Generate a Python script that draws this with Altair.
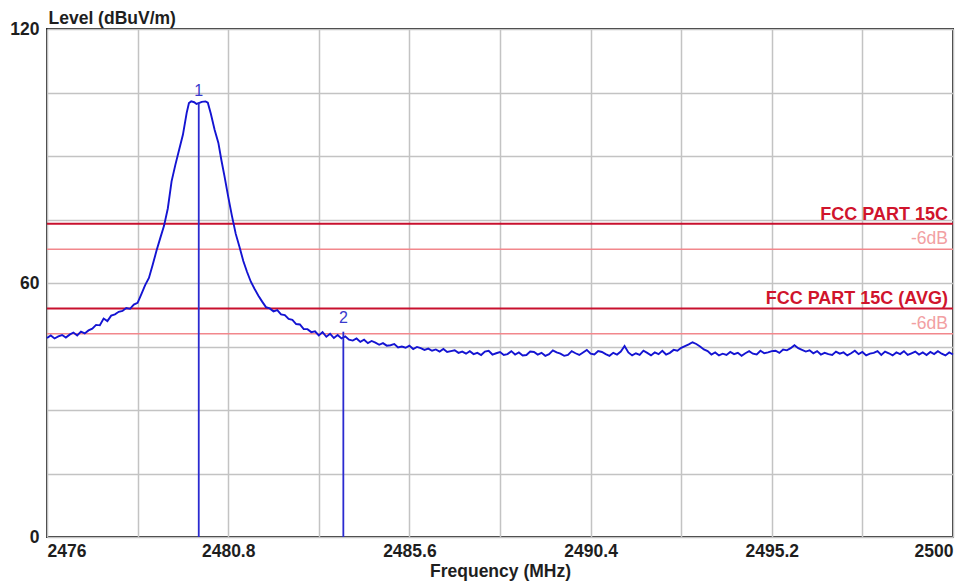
import altair as alt
import pandas as pd

# ---- trace readings (frequency in MHz, level in dBuV/m) ----
seg_a_freq = [round(2476.0 + 0.1 * i, 2) for i in range(25)]
seg_a_level = [47.0, 47.6, 46.9, 47.4, 47.7, 47.1, 47.8, 48.3, 47.6, 48.5,
               48.1, 48.8, 49.2, 50.1, 50.0, 51.6, 51.0, 52.3, 52.6, 53.2,
               53.4, 54.1, 53.9, 54.9, 55.3]

seg_b_freq = [2478.5, 2478.6, 2478.7, 2478.8, 2478.9, 2479.0, 2479.1, 2479.2, 2479.3, 2479.4,
              2479.5, 2479.6, 2479.7, 2479.76, 2479.82, 2479.9, 2479.96, 2480.02, 2480.1, 2480.2,
              2480.26, 2480.34, 2480.44, 2480.54, 2480.62, 2480.7, 2480.8, 2480.9, 2481.0, 2481.1,
              2481.2, 2481.3, 2481.4, 2481.5, 2481.6, 2481.7, 2481.8, 2481.9, 2482.0]
seg_b_level = [57.4, 59.5, 61.2, 64.3, 67.6, 70.6, 73.5, 77.6, 84.0, 87.9,
               91.5, 95.0, 100.2, 102.5, 102.9, 102.7, 102.3, 102.5, 102.8, 102.9,
               102.6, 100.0, 96.2, 93.1, 89.0, 85.3, 80.4, 75.8, 71.6, 68.5,
               65.2, 62.6, 60.3, 58.6, 57.0, 55.6, 54.3, 54.0, 53.3]

seg_c_freq = [round(2482.1 + 0.1 * i, 2) for i in range(20)]
seg_c_level = [53.6, 52.6, 52.4, 51.5, 51.3, 50.3, 50.2, 49.1, 49.1, 48.4,
               48.6, 47.6, 48.4, 47.3, 48.0, 47.0, 47.7, 46.9, 47.4, 46.6]

seg_d_freq = [round(2484.1 + 0.1 * i, 2) for i in range(160)]
seg_d_level = [
    46.4, 46.9, 46.1, 46.6, 45.8, 46.3, 45.9, 45.4, 45.8, 45.2,
    45.3, 45.6, 44.8, 45.0, 44.7, 45.2, 44.4, 44.9, 44.6, 44.2,
    44.5, 44.0, 44.3, 43.8, 44.4, 43.7, 43.9, 44.1, 43.5, 43.8,
    43.3, 43.9, 43.2, 43.5, 43.0, 43.8, 44.0, 43.1, 43.4, 43.7,
    43.0, 43.2, 43.9, 43.1, 43.6, 42.9, 43.0, 43.8, 43.7, 43.1,
    43.5, 42.8, 43.2, 44.1, 43.6, 43.3, 42.8, 43.0, 43.9, 43.4,
    43.0, 43.6, 44.2, 43.3, 43.1, 43.9, 43.7, 43.2, 42.8, 43.5,
    43.1, 43.8, 45.1, 43.6, 42.9, 43.4, 43.0, 44.0, 43.5, 42.9,
    43.6, 43.2, 44.0, 43.1, 43.5, 44.2, 44.0, 44.7, 45.1, 45.5,
    46.0, 45.6, 45.0, 44.3, 43.9, 43.1, 43.6, 42.9, 43.3, 43.0,
    43.7, 43.2, 43.5, 42.8, 43.4, 43.9, 43.3, 43.1, 44.0, 43.4,
    43.6, 43.9, 44.0, 43.5, 44.3, 44.1, 44.6, 45.3, 44.6, 44.2,
    43.8, 44.1, 43.4, 43.9, 43.1, 43.5, 43.2, 43.0, 43.8, 43.3,
    43.6, 42.9, 43.4, 44.0, 43.2, 43.7, 42.9, 43.3, 43.5, 43.9,
    43.0, 43.8, 43.4, 42.9, 43.6, 43.2, 43.9, 43.0, 43.4, 43.8,
    43.1, 43.6, 43.0, 43.7, 43.2, 43.9, 43.3, 42.9, 43.6, 43.1,
]

# ---- limit lines ----
limit_levels = [74, 68, 54, 48]
limit_labels = ["FCC PART 15C", "-6dB", "FCC PART 15C (AVG)", "-6dB"]
limit_kind = ["main", "margin", "main", "margin"]

# ---- markers ----
marker_freq = [2480.02, 2483.85]
marker_level = [102.7, 48.5]
marker_text = ["1", "2"]
marker_label_level = [105.3, 51.8]

# ---- axes ----
x_grid = [round(2476 + 2.4 * i, 1) for i in range(11)]
y_grid = list(range(0, 121, 15))

FONT = "Liberation Sans"

trace = pd.DataFrame({
    "freq": seg_a_freq + seg_b_freq + seg_c_freq + seg_d_freq,
    "level": seg_a_level + seg_b_level + seg_c_level + seg_d_level,
})
limits = pd.DataFrame({"level": limit_levels, "label": limit_labels, "kind": limit_kind,
                       "freq": [2500] * 4})
markers = pd.DataFrame({"freq": marker_freq, "level": marker_level, "base": [0, 0],
                        "text": marker_text, "lab": marker_label_level})

x_scale = alt.Scale(domain=[2476, 2500], nice=False, zero=False)
y_scale = alt.Scale(domain=[0, 120], nice=False, zero=False)

x_axis = alt.Axis(
    values=x_grid,
    labelExpr="round((datum.value-2476)/2.4) % 2 == 0 ? format(datum.value, '.1~f') : ''",
    grid=True, gridColor="#c3c3c3", gridWidth=1.5,
    ticks=False, domain=False, labelOverlap=False, labelFlush=True,
    labelFont=FONT, labelFontWeight="bold", labelFontSize=17.5, labelColor="#1e1e1e",
    labelPadding=5,
    title="Frequency (MHz)", titleFont=FONT, titleFontWeight="bold", titleFontSize=17.5,
    titleColor="#1e1e1e", titlePadding=3,
)
y_axis = alt.Axis(
    values=y_grid,
    labelExpr="datum.value % 60 == 0 ? datum.label : ''",
    grid=True, gridColor="#c3c3c3", gridWidth=1.5,
    ticks=False, domain=False, labelOverlap=False,
    labelFont=FONT, labelFontWeight="bold", labelFontSize=17.5, labelColor="#1e1e1e",
    labelPadding=8,
    title="Level (dBuV/m)", titleFont=FONT, titleFontWeight="bold", titleFontSize=17.5,
    titleColor="#1e1e1e", titleAngle=0, titleAlign="left", titleBaseline="alphabetic",
    titleX=1, titleY=-6,
)

X = alt.X("freq:Q", scale=x_scale, axis=x_axis)
Y = alt.Y("level:Q", scale=y_scale, axis=y_axis)

limit_rules = alt.Chart(limits).mark_rule().encode(
    y=Y,
    color=alt.Color("kind:N", scale=alt.Scale(domain=["main", "margin"],
                                              range=["#c8102e", "#f2878c"]), legend=None),
    strokeWidth=alt.StrokeWidth("kind:N", scale=alt.Scale(domain=["main", "margin"],
                                                          range=[2, 1.5]), legend=None),
)
limit_main_text = alt.Chart(limits).transform_filter("datum.kind == 'main'").mark_text(
    align="right", baseline="alphabetic", dx=-5, dy=-4, font=FONT, fontWeight="bold",
    fontSize=18, color="#d0142c",
).encode(x=X, y=Y, text="label:N")
limit_margin_text = alt.Chart(limits).transform_filter("datum.kind == 'margin'").mark_text(
    align="right", baseline="alphabetic", dx=-5, dy=-5, font=FONT,
    fontSize=17.5, color="#f2a0a2",
).encode(x=X, y=Y, text="label:N")

line = alt.Chart(trace).mark_line(color="#1414d2", strokeWidth=1.9).encode(x=X, y=Y)

marker_rules = alt.Chart(markers).mark_rule(color="#2a2ad0", strokeWidth=1.8).encode(
    x=X, y=Y, y2="base:Q")
marker_labels = alt.Chart(markers).mark_text(
    font=FONT, fontSize=16, color="#3a3acc", baseline="middle", align="center"
).encode(x=X, y=alt.Y("lab:Q", scale=y_scale, axis=y_axis), text="text:N")

chart = alt.layer(
    limit_rules, limit_main_text, limit_margin_text, line, marker_rules, marker_labels
).properties(
    width=906, height=508,
    autosize=alt.AutoSizeParams(type="none"),
    padding={"left": 39, "top": 21, "right": 12, "bottom": 48},
    background="white",
).configure_view(stroke="#2a2a2a", strokeWidth=2)

chart.save("out.html", embed_options={"renderer": "svg", "actions": False})
